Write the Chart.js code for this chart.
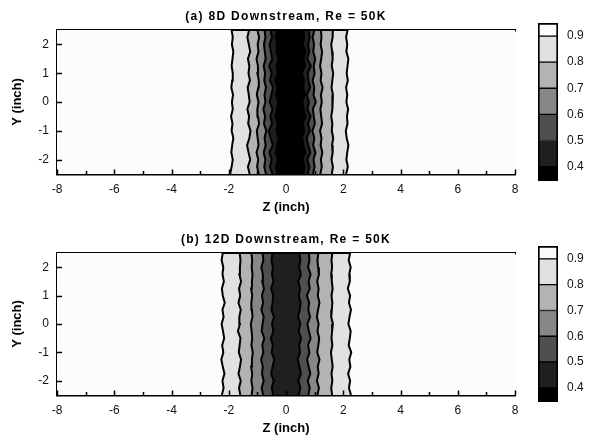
<!DOCTYPE html>
<html>
<head>
<meta charset="utf-8">
<script src="https://cdn.jsdelivr.net/npm/chart.js@4.4.1/dist/chart.umd.min.js"></script>
<style>
  html, body { margin: 0; padding: 0; background: #ffffff; }
  body { width: 596px; height: 441px; position: relative; overflow: hidden; }
  canvas { position: absolute; display: block; }
</style>
</head>
<body>
<canvas id="plotA" width="530" height="220" style="left:0;top:0"></canvas>
<canvas id="barA" width="66" height="220" style="left:530px;top:0"></canvas>
<canvas id="plotB" width="530" height="218" style="left:0;top:223px"></canvas>
<canvas id="barB" width="66" height="218" style="left:530px;top:223px"></canvas>
<script>
// ---- axes ----
const zTicks = [-8, -6, -4, -2, 0, 2, 4, 6, 8];
const zMinorTicks = [-7, -5, -3, -1, 1, 3, 5, 7];
const yTicks = [-2, -1, 0, 1, 2];
const zRange = [-8, 8];
const yRange = [-2.5, 2.5];

// ---- contour levels (normalised velocity) ----
const levels = [0.9, 0.8, 0.7, 0.6, 0.5, 0.4];
const colorbarRange = [0.345, 0.95];

// sampled Y stations (inch) for the contour traces
const yRows = [-2.5, -2.25, -2.0, -1.75, -1.5, -1.25, -1.0, -0.75, -0.5, -0.25, 0.0,
               0.25, 0.5, 0.75, 1.0, 1.25, 1.5, 1.75, 2.0, 2.25, 2.5];

// ---- 8D downstream: Z position (inch) of each iso-line, left and right of the wake ----
const z8D_left_90  = [-1.95,-1.90,-1.86,-1.91,-1.88,-1.84,-1.90,-1.87,-1.92,-1.86,-1.89,-1.85,-1.91,-1.88,-1.86,-1.90,-1.87,-1.84,-1.89,-1.86,-1.90];
const z8D_right_90 = [2.10,2.16,2.11,2.14,2.18,2.12,2.09,2.15,2.13,2.17,2.11,2.14,2.10,2.16,2.12,2.15,2.18,2.11,2.14,2.10,2.15];
const z8D_left_80  = [-1.27,-1.33,-1.25,-1.31,-1.36,-1.28,-1.24,-1.32,-1.29,-1.35,-1.27,-1.30,-1.34,-1.26,-1.31,-1.28,-1.33,-1.25,-1.30,-1.35,-1.29];
const z8D_right_80 = [1.60,1.64,1.59,1.63,1.61,1.65,1.60,1.62,1.58,1.63,1.61,1.64,1.59,1.62,1.65,1.60,1.63,1.61,1.58,1.62,1.64];
const z8D_left_70  = [-0.95,-1.01,-0.97,-1.03,-0.96,-0.99,-1.02,-0.94,-0.98,-1.00,-0.96,-1.02,-0.97,-0.95,-1.00,-0.98,-1.03,-0.96,-0.99,-0.94,-1.00];
const z8D_right_70 = [1.20,1.25,1.22,1.27,1.21,1.24,1.19,1.26,1.23,1.20,1.25,1.22,1.28,1.21,1.24,1.19,1.23,1.26,1.21,1.24,1.22];
const z8D_left_60  = [-0.70,-0.76,-0.72,-0.78,-0.71,-0.75,-0.69,-0.77,-0.73,-0.79,-0.72,-0.75,-0.70,-0.76,-0.73,-0.78,-0.71,-0.74,-0.77,-0.72,-0.75];
const z8D_right_60 = [0.94,1.00,0.96,1.03,0.95,0.99,0.92,1.01,0.97,0.94,1.04,0.96,0.99,0.93,1.00,0.97,1.02,0.95,0.98,0.93,0.99];
const z8D_left_50  = [-0.48,-0.56,-0.50,-0.58,-0.46,-0.54,-0.60,-0.49,-0.55,-0.47,-0.57,-0.51,-0.45,-0.56,-0.50,-0.59,-0.48,-0.53,-0.57,-0.49,-0.54];
const z8D_right_50 = [0.76,0.82,0.74,0.85,0.78,0.72,0.83,0.77,0.86,0.75,0.80,0.73,0.84,0.79,0.76,0.87,0.74,0.81,0.77,0.83,0.78];
const z8D_left_40  = [-0.30,-0.35,-0.28,-0.36,-0.31,-0.26,-0.34,-0.29,-0.37,-0.32,-0.27,-0.35,-0.30,-0.38,-0.29,-0.33,-0.26,-0.34,-0.31,-0.36,-0.30];
const z8D_right_40 = [0.60,0.65,0.58,0.67,0.61,0.56,0.64,0.59,0.68,0.62,0.57,0.66,0.60,0.63,0.55,0.66,0.61,0.69,0.58,0.64,0.60];

// ---- 12D downstream ----
const z12D_left_90  = [-2.24,-2.18,-2.22,-2.15,-2.21,-2.26,-2.19,-2.23,-2.16,-2.20,-2.25,-2.18,-2.22,-2.14,-2.21,-2.24,-2.17,-2.22,-2.19,-2.25,-2.21];
const z12D_right_90 = [2.27,2.20,2.24,2.17,2.25,2.21,2.28,2.19,2.23,2.26,2.18,2.22,2.27,2.20,2.24,2.16,2.23,2.21,2.26,2.19,2.24];
const z12D_left_80  = [-1.60,-1.64,-1.58,-1.66,-1.61,-1.57,-1.65,-1.62,-1.59,-1.68,-1.61,-1.63,-1.58,-1.66,-1.60,-1.64,-1.57,-1.63,-1.61,-1.59,-1.62];
const z12D_right_80 = [1.61,1.58,1.62,1.59,1.63,1.60,1.57,1.62,1.59,1.61,1.64,1.58,1.60,1.62,1.59,1.63,1.60,1.58,1.61,1.59,1.62];
const z12D_left_70  = [-1.20,-1.17,-1.21,-1.18,-1.22,-1.19,-1.16,-1.21,-1.18,-1.20,-1.23,-1.17,-1.19,-1.21,-1.18,-1.22,-1.19,-1.17,-1.20,-1.18,-1.21];
const z12D_right_70 = [1.10,1.15,1.08,1.14,1.11,1.17,1.09,1.13,1.16,1.10,1.14,1.08,1.12,1.17,1.11,1.14,1.09,1.15,1.12,1.10,1.13];
const z12D_left_60  = [-0.80,-0.85,-0.78,-0.84,-0.81,-0.87,-0.79,-0.83,-0.76,-0.85,-0.82,-0.78,-0.86,-0.80,-0.84,-0.77,-0.83,-0.81,-0.86,-0.79,-0.82];
const z12D_right_60 = [0.78,0.83,0.76,0.85,0.79,0.74,0.82,0.77,0.86,0.80,0.75,0.84,0.78,0.81,0.73,0.83,0.79,0.86,0.77,0.82,0.80];
const z12D_left_50  = [-0.45,-0.50,-0.43,-0.52,-0.47,-0.41,-0.50,-0.46,-0.53,-0.44,-0.49,-0.42,-0.51,-0.47,-0.45,-0.52,-0.44,-0.49,-0.46,-0.51,-0.47];
const z12D_right_50 = [0.45,0.50,0.43,0.52,0.47,0.41,0.49,0.46,0.53,0.44,0.50,0.42,0.48,0.51,0.45,0.49,0.43,0.52,0.46,0.50,0.47];

// iso-lines grouped per panel, in the order of `levels` (null = level not reached)
const contours8D = [
  [z8D_left_90, z8D_right_90], [z8D_left_80, z8D_right_80], [z8D_left_70, z8D_right_70],
  [z8D_left_60, z8D_right_60], [z8D_left_50, z8D_right_50], [z8D_left_40, z8D_right_40]
];
const contours12D = [
  [z12D_left_90, z12D_right_90], [z12D_left_80, z12D_right_80], [z12D_left_70, z12D_right_70],
  [z12D_left_60, z12D_right_60], [z12D_left_50, z12D_right_50], null
];

// ---- styling ----
const FONT = 'Arial, "Liberation Sans", Helvetica, sans-serif';
const aboveTopFill = '#fcfcfc';                  // region above the highest level
const belowLevelFill = ['#e1e1e1', '#b3b3b3', '#878787', '#4f4f4f', '#1f1f1f', '#000000'];

Chart.defaults.font.family = FONT;
Chart.defaults.font.size = 12;
Chart.defaults.color = '#111111';
Chart.defaults.animation = false;

// plot-area background
const areaBackground = {
  id: 'areaBackground',
  beforeDatasetsDraw(chart) {
    const { ctx, chartArea: a } = chart;
    ctx.save();
    ctx.fillStyle = aboveTopFill;
    ctx.fillRect(a.left, a.top, a.right - a.left, a.bottom - a.top);
    ctx.restore();
  }
};

// tick marks pointing into the plot area, major + minor on Z, major on Y
const innerTicks = {
  id: 'innerTicks',
  afterDatasetsDraw(chart) {
    const { ctx, chartArea: a, scales } = chart;
    const x = scales.x, y = scales.y;
    ctx.save();
    ctx.strokeStyle = '#000';
    ctx.lineWidth = 1.5;
    ctx.beginPath();
    zTicks.forEach(v => {
      const px = Math.round(x.getPixelForValue(v)) + 0.5;
      ctx.moveTo(px, a.bottom); ctx.lineTo(px, a.bottom - 4.5);
    });
    zMinorTicks.forEach(v => {
      const px = Math.round(x.getPixelForValue(v)) + 0.5;
      ctx.moveTo(px, a.bottom); ctx.lineTo(px, a.bottom - 3);
    });
    yTicks.forEach(v => {
      const py = Math.round(y.getPixelForValue(v)) + 0.5;
      ctx.moveTo(a.left, py); ctx.lineTo(a.left + 5, py);
    });
    ctx.stroke();
    ctx.restore();
  }
};

// wider letter spacing for the panel heading (drawn as the top axis title)
const spacedHeading = {
  id: 'spacedHeading',
  beforeDraw(chart) {
    const s = chart.scales.x2;
    if (s && !s.__spaced) {
      const base = s.drawTitle;
      s.drawTitle = function () {
        this.ctx.save();
        this.ctx.letterSpacing = '1.3px';
        base.call(this);
        this.ctx.restore();
      };
      s.__spaced = true;
    }
  }
};

function contourDatasets(groups) {
  const sets = [];
  groups.forEach((pair, i) => {
    if (!pair) return;
    const [left, right] = pair;
    const n = yRows.length;
    const pts = [{ x: left[0], y: yRange[0] }];
    for (let k = 0; k < n; k++) pts.push({ x: left[k], y: yRows[k] });
    pts.push({ x: left[n - 1], y: yRange[1] });
    pts.push({ x: right[n - 1], y: yRange[1] });
    for (let k = n - 1; k >= 0; k--) pts.push({ x: right[k], y: yRows[k] });
    pts.push({ x: right[0], y: yRange[0] });
    sets.push({
      label: String(levels[i]),
      data: pts,
      showLine: true,
      fill: 'shape',
      backgroundColor: belowLevelFill[i],
      borderColor: '#000000',
      borderWidth: 2,
      pointRadius: 0,
      pointHoverRadius: 0,
      tension: 0,
      order: levels.length - i
    });
  });
  return sets;
}

function fixed(size) { return s => { if (s.isHorizontal()) s.height = size; else s.width = size; }; }

function makePlot(id, heading, groups) {
  return new Chart(document.getElementById(id), {
    type: 'scatter',
    data: { datasets: contourDatasets(groups) },
    plugins: [areaBackground, innerTicks, spacedHeading],
    options: {
      responsive: false,
      layout: { padding: { left: 0, right: 15, top: 0, bottom: 0 } },
      plugins: { legend: { display: false }, tooltip: { enabled: false }, title: { display: false } },
      scales: {
        x: {
          type: 'linear', position: 'bottom', min: zRange[0], max: zRange[1],
          afterBuildTicks: s => { s.ticks = zTicks.map(v => ({ value: v })); },
          ticks: { padding: 8, font: { size: 12 }, color: '#111' },
          grid: { display: true, drawOnChartArea: false, drawTicks: false },
          border: { display: true, color: '#000', width: 2.6 },
          title: { display: true, text: 'Z (inch)', font: { size: 13, weight: 'bold' }, color: '#000', padding: { top: 0, bottom: 5 } },
          afterFit: fixed(46)
        },
        x2: {
          type: 'linear', position: 'top', min: zRange[0], max: zRange[1],
          ticks: { display: false },
          grid: { display: true, drawOnChartArea: false, drawTicks: false },
          border: { display: true, color: '#000', width: 2.6 },
          title: { display: true, text: heading, font: { size: 12, weight: 'bold' }, color: '#000', padding: { top: 9, bottom: 0 } },
          afterFit: fixed(30)
        },
        y: {
          type: 'linear', position: 'left', min: yRange[0], max: yRange[1],
          afterBuildTicks: s => { s.ticks = yTicks.map(v => ({ value: v })); },
          ticks: { padding: 8, font: { size: 12 }, color: '#111' },
          grid: { display: true, drawOnChartArea: false, drawTicks: false },
          border: { display: true, color: '#000', width: 2.6 },
          title: { display: true, text: 'Y (inch)', font: { size: 13, weight: 'bold' }, color: '#000', padding: { top: 10, bottom: 0 } },
          afterFit: fixed(57)
        }
      }
    }
  });
}

// colour key: one floating bar per band
function makeColorbar(id) {
  const edges = [colorbarRange[0], ...levels.slice().reverse(), colorbarRange[1]];
  const fills = [...belowLevelFill.slice().reverse(), aboveTopFill];
  const last = fills.length - 1;
  const datasets = fills.map((c, i) => ({
    data: [[edges[i], edges[i + 1]]],
    backgroundColor: c,
    borderColor: '#000',
    borderWidth: { left: 2, right: 2, top: i === last ? 2 : 1, bottom: i === 0 ? 2 : 1 },
    borderSkipped: false,
    grouped: false,
    barPercentage: 1,
    categoryPercentage: 1
  }));
  return new Chart(document.getElementById(id), {
    type: 'bar',
    data: { labels: [''], datasets },
    options: {
      responsive: false,
      layout: { padding: { left: 8, right: 0, top: 23, bottom: 39 } },
      plugins: { legend: { display: false }, tooltip: { enabled: false } },
      scales: {
        x: { display: false },
        y: {
          position: 'right', min: colorbarRange[0], max: colorbarRange[1],
          afterBuildTicks: s => { s.ticks = levels.map(v => ({ value: v })); },
          ticks: { padding: 9, font: { size: 12 }, color: '#111', callback: v => Number(v).toFixed(1) },
          grid: { display: false, drawTicks: false },
          border: { display: false },
          afterFit: fixed(38)
        }
      }
    }
  });
}

makePlot('plotA', '(a) 8D Downstream, Re = 50K', contours8D);
makeColorbar('barA');
makePlot('plotB', '(b) 12D Downstream, Re = 50K', contours12D);
makeColorbar('barB');
</script>
</body>
</html>
